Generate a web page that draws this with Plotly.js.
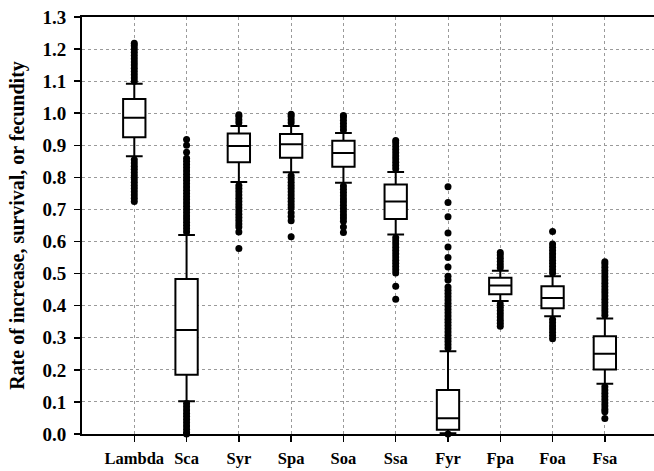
<!DOCTYPE html>
<html>
<head>
<meta charset="utf-8">
<script src="https://cdn.plot.ly/plotly-3.0.1.min.js"></script>
<style>html,body{margin:0;padding:0;background:#fff;}#chart{width:654px;height:471px;}</style>
</head>
<body>
<div id="chart"></div>
<script>
const categories = ["Lambda","Sca","Syr","Spa","Soa","Ssa","Fyr","Fpa","Foa","Fsa"];
const q1 = [0.925,0.185,0.847,0.861,0.833,0.670,0.013,0.436,0.392,0.201];
const medians = [0.986,0.324,0.898,0.903,0.876,0.725,0.049,0.463,0.424,0.250];
const q3 = [1.044,0.483,0.937,0.935,0.914,0.778,0.137,0.487,0.461,0.305];
const lowerWhisker = [0.866,0.102,0.786,0.816,0.783,0.622,0.002,0.415,0.367,0.157];
const upperWhisker = [1.092,0.620,0.960,0.960,0.938,0.817,0.258,0.509,0.492,0.360];

const outLambda = [1.100,1.110,1.120,1.130,1.140,1.150,1.160,1.170,1.180,1.190,1.200,1.210,1.218,
  0.855,0.845,0.835,0.825,0.815,0.805,0.795,0.785,0.775,0.765,0.755,0.745,0.735,0.725];
const outSca = [0.630,0.640,0.650,0.660,0.670,0.680,0.690,0.700,0.710,0.720,0.730,0.740,0.750,0.760,0.770,0.780,0.790,0.800,0.810,0.820,0.830,0.840,0.850,0.860,0.878,0.900,0.918,
  0.095,0.085,0.075,0.065,0.055,0.045,0.035,0.025,0.015,0.005,0.000];
const outSyr = [0.970,0.980,0.990,0.995,
  0.775,0.765,0.755,0.745,0.735,0.725,0.715,0.705,0.695,0.685,0.675,0.665,0.655,0.645,0.630,0.578];
const outSpa = [0.970,0.980,0.990,0.997,
  0.805,0.795,0.785,0.775,0.765,0.755,0.745,0.735,0.725,0.715,0.705,0.690,0.678,0.665,0.615];
const outSoa = [0.948,0.958,0.968,0.978,0.988,0.993,
  0.773,0.763,0.753,0.743,0.733,0.723,0.713,0.703,0.693,0.683,0.673,0.663,0.645,0.628];
const outSsa = [0.827,0.837,0.847,0.857,0.867,0.877,0.887,0.897,0.907,0.915,
  0.612,0.602,0.592,0.582,0.572,0.562,0.552,0.542,0.532,0.522,0.512,0.502,0.461,0.420];
const outFyr = [0.268,0.278,0.288,0.298,0.308,0.318,0.328,0.338,0.348,0.358,0.368,0.378,0.388,0.398,0.408,0.418,0.428,0.438,0.448,0.458,
  0.480,0.492,0.521,0.550,0.583,0.627,0.677,0.722,0.771,0.000];
const outFpa = [0.518,0.528,0.538,0.548,0.558,0.566,
  0.405,0.395,0.385,0.375,0.365,0.355,0.345,0.336];
const outFoa = [0.502,0.512,0.522,0.532,0.542,0.552,0.562,0.572,0.582,0.592,0.631,
  0.357,0.347,0.337,0.327,0.317,0.307,0.297];
const outFsa = [0.370,0.380,0.390,0.400,0.410,0.420,0.430,0.440,0.450,0.460,0.470,0.480,0.490,0.500,0.510,0.520,0.530,0.537,
  0.147,0.137,0.127,0.117,0.107,0.097,0.087,0.077,0.069,0.048];
const outliers = [outLambda,outSca,outSyr,outSpa,outSoa,outSsa,outFyr,outFpa,outFoa,outFsa];

const ox = [], oy = [];
outliers.forEach((arr, i) => arr.forEach(v => { ox.push(categories[i]); oy.push(v); }));

const font = "'Liberation Serif', 'Times New Roman', serif";

const boxTrace = {
  type: 'box',
  x: categories,
  q1: q1, median: medians, q3: q3,
  lowerfence: lowerWhisker, upperfence: upperWhisker,
  boxpoints: false,
  fillcolor: '#ffffff',
  line: {color: '#000000', width: 2},
  whiskerwidth: 0.75,
  showlegend: false,
  hoverinfo: 'skip'
};
const outTrace = {
  type: 'scatter', mode: 'markers',
  x: ox, y: oy,
  marker: {color: '#000000', size: 7},
  cliponaxis: false,
  showlegend: false,
  hoverinfo: 'skip'
};

const layout = {
  width: 654, height: 471,
  margin: {l: 82, r: 0, t: 17, b: 37},
  paper_bgcolor: '#ffffff', plot_bgcolor: '#ffffff',
  boxgap: 0.39,
  font: {family: font, color: '#000000'},
  xaxis: {
    type: 'category',
    categoryorder: 'array', categoryarray: categories,
    range: [-1, 9.94],
    showline: true, linecolor: '#000000', linewidth: 2, mirror: true,
    ticks: 'outside', ticklen: 6, tickwidth: 1.5, tickcolor: '#000000',
    showgrid: true, gridcolor: '#9a9a9a', griddash: 'dot', gridwidth: 1,
    tickfont: {family: font, size: 16.5, color: '#000000', weight: 'bold'},
    ticklabelstandoff: 2,
    zeroline: false
  },
  yaxis: {
    range: [0, 1.3],
    tickvals: [0,0.1,0.2,0.3,0.4,0.5,0.6,0.7,0.8,0.9,1.0,1.1,1.2,1.3],
    tickformat: '.1f',
    showline: true, linecolor: '#000000', linewidth: 2,
    ticks: 'outside', ticklen: 6, tickwidth: 1.5, tickcolor: '#000000',
    showgrid: true, gridcolor: '#9a9a9a', griddash: 'dot', gridwidth: 1,
    tickfont: {family: font, size: 19, color: '#000000', weight: 'bold'},
    ticklabelstandoff: 4,
    zeroline: false,
    title: {text: 'Rate of increase, survival, or fecundity', font: {family: font, size: 20, color: '#000000', weight: 'bold'}, standoff: 12}
  }
};

Plotly.newPlot('chart', [boxTrace, outTrace], layout, {displayModeBar: false, staticPlot: true});
</script>
</body>
</html>
